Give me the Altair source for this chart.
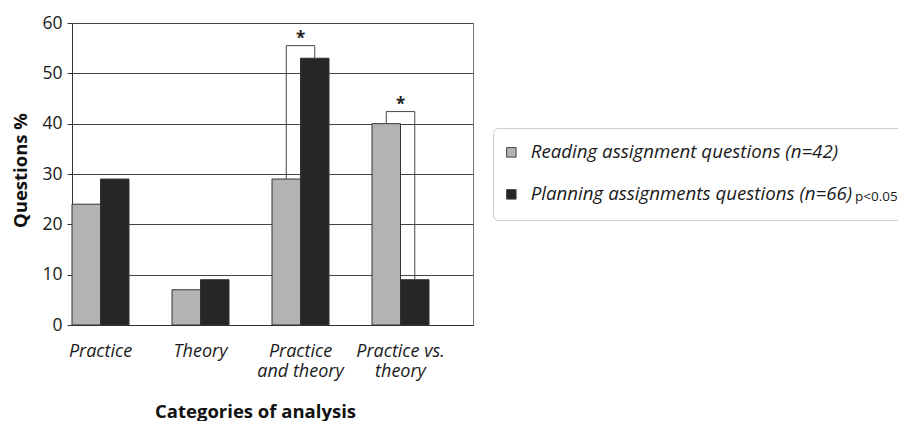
import altair as alt
import pandas as pd

categories = ["Practice", "Theory", "Practice and theory", "Practice vs. theory"]
series = ["Reading assignment questions (n=42)", "Planning assignments questions (n=66)"]
reading = [24, 7, 29, 40]
planning = [29, 9, 53, 9]
sig_categories = ["Practice and theory", "Practice vs. theory"]
bracket_tops = [55.5, 42.4]
sig_mark = "*"
p_note = "p<0.05"
y_ticks = [0, 10, 20, 30, 40, 50, 60]

FONT = "Open Sans"
GRAY = "#b3b3b3"
DARK = "#262626"

rows = []
for c, r, p in zip(categories, reading, planning):
    rows.append({"category": c, "series": series[0], "value": r})
    rows.append({"category": c, "series": series[1], "value": p})
bars_df = pd.DataFrame(rows)

bracket_rows = []
for k, (c, top) in enumerate(zip(sig_categories, bracket_tops)):
    i = categories.index(c)
    pts = [(series[0], reading[i]), (series[0], top), (series[1], top), (series[1], planning[i])]
    for j, (s, v) in enumerate(pts):
        bracket_rows.append({"bracket": k, "category": c, "series": s, "value": v, "order": j})
bracket_df = pd.DataFrame(bracket_rows)

star_df = pd.DataFrame({"category": sig_categories, "value": bracket_tops, "text": [sig_mark] * len(sig_categories)})

label_expr = (
    "datum.label == 'Practice and theory' ? ['Practice', 'and theory'] : "
    "datum.label == 'Practice vs. theory' ? ['Practice vs.', 'theory'] : datum.label"
)

x_enc = alt.X(
    "category:N",
    sort=categories,
    scale=alt.Scale(domain=categories, paddingInner=0.43, paddingOuter=0.22, align=0),
    axis=alt.Axis(
        title="Categories of analysis",
        titleFont=FONT, titleFontSize=18.5, titleFontWeight="bold", titleColor="#111",
        titleX=183, titleY=92, titleBaseline="alphabetic",
        labelAngle=0, labelFont=FONT, labelFontSize=18, labelFontStyle="italic",
        labelColor="#1a1a1a", labelPadding=17, labelLineHeight=20, labelLimit=300,
        labelExpr=label_expr, ticks=False, domainColor="#333", grid=False,
    ),
)
xoff = alt.XOffset("series:N", sort=series, scale=alt.Scale(domain=series))
y_enc = alt.Y(
    "value:Q",
    scale=alt.Scale(domain=[0, 60], nice=False),
    axis=alt.Axis(
        title="Questions %", values=y_ticks,
        titleFont=FONT, titleFontSize=18.5, titleFontWeight="bold", titleColor="#111",
        titleAngle=270, titleX=-46, titleY=147, titleAlign="center", titleBaseline="alphabetic",
        labelFont=FONT, labelFontSize=17.5, labelColor="#1a1a1a", labelPadding=5,
        tickSize=5, tickColor="#333", domainColor="#333",
        grid=True, gridColor="#444", gridWidth=1,
    ),
)

bars = alt.Chart(bars_df).mark_bar(stroke="#333", strokeWidth=1).encode(
    x=x_enc,
    xOffset=xoff,
    y=y_enc,
    color=alt.Color(
        "series:N", sort=series,
        scale=alt.Scale(domain=series, range=[GRAY, DARK]),
        legend=alt.Legend(
            title=p_note, titleOrient="right", titleAnchor="end", titleBaseline="bottom",
            titleFont=FONT, titleFontSize=13.5, titleFontWeight="normal", titleColor="#1a1a1a",
            titlePadding=3, titleLimit=200,
            orient="none", legendX=421, legendY=105, direction="vertical",
            symbolType="square", symbolSize=90, symbolStrokeColor="#444", symbolStrokeWidth=1,
            symbolOpacity=1, symbolOffset=-6,
            labelFont=FONT, labelFontSize=18.7, labelFontStyle="italic", labelColor="#1a1a1a",
            labelOffset=10, labelLimit=900,
            rowPadding=22, padding=15, strokeColor="#cfcfcf", cornerRadius=5,
        ),
    ),
)

brackets = alt.Chart(bracket_df).mark_line(color="#444", strokeWidth=1).encode(
    x=alt.X("category:N", sort=categories),
    xOffset=alt.XOffset("series:N", sort=series),
    y="value:Q",
    detail="bracket:N",
    order="order:Q",
)

stars = alt.Chart(star_df).mark_text(
    font=FONT, fontSize=17, fontWeight="bold", color="#222", baseline="alphabetic", dy=-2
).encode(
    x=alt.X("category:N", sort=categories),
    y="value:Q",
    text="text:N",
)

chart = alt.layer(bars, brackets, stars).properties(
    width=401,
    height=302,
    autosize=alt.AutoSizeParams(type="none"),
    padding={"left": 64, "top": 15, "right": 425, "bottom": 96},
    background="white",
).configure_view(stroke="#777", strokeWidth=1)

chart.save("out.html", embed_options={"renderer": "svg", "actions": False})
